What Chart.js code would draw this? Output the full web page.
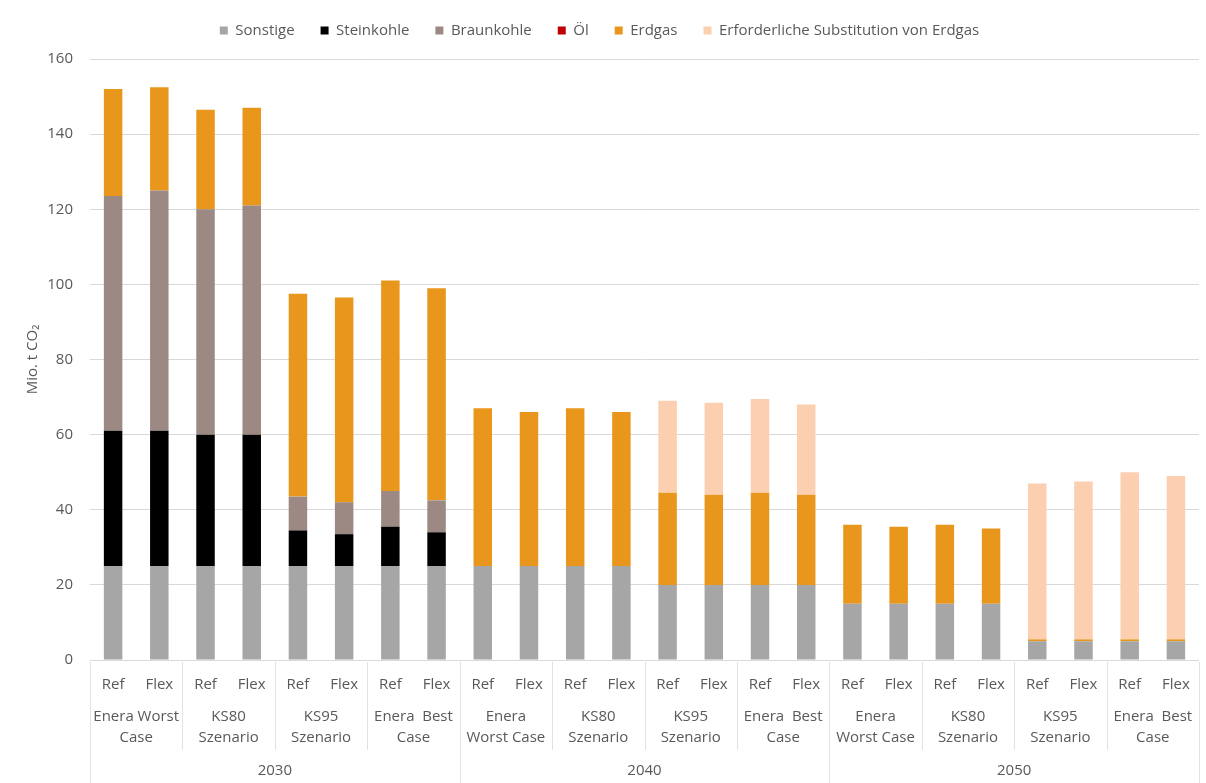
<!DOCTYPE html>
<html>
<head>
<meta charset="utf-8">
<script src="https://cdn.jsdelivr.net/npm/chart.js@4"></script>
<style>
  html, body { margin: 0; padding: 0; background: #fff; }
  #wrap { width: 1206px; height: 783px; }
</style>
</head>
<body>
<div id="wrap"><canvas id="co2Chart" width="1206" height="783"></canvas></div>
<script>
// ---- data ----
const years = ['2030', '2040', '2050'];
const scenarios = [
  ['Enera Worst', 'Case'], ['KS80', 'Szenario'], ['KS95', 'Szenario'], ['Enera  Best', 'Case'],
  ['Enera', 'Worst Case'], ['KS80', 'Szenario'], ['KS95', 'Szenario'], ['Enera  Best', 'Case'],
  ['Enera', 'Worst Case'], ['KS80', 'Szenario'], ['KS95', 'Szenario'], ['Enera  Best', 'Case']
];
const variants = ['Ref', 'Flex'];

const sonstige   = [25, 25, 25, 25, 25, 25, 25, 25,   25, 25, 25, 25, 20, 20, 20, 20,   15, 15, 15, 15, 5, 5, 5, 5];
const steinkohle = [36, 36, 35, 35, 9.5, 8.5, 10.5, 9, 0, 0, 0, 0, 0, 0, 0, 0,           0, 0, 0, 0, 0, 0, 0, 0];
const braunkohle = [62.5, 64, 60, 61, 9, 8.5, 9.5, 8.5, 0, 0, 0, 0, 0, 0, 0, 0,         0, 0, 0, 0, 0, 0, 0, 0];
const oel        = [0, 0, 0, 0, 0, 0, 0, 0,           0, 0, 0, 0, 0, 0, 0, 0,           0, 0, 0, 0, 0, 0, 0, 0];
const erdgas     = [28.5, 27.5, 26.5, 26, 54, 54.5, 56, 56.5, 42, 41, 42, 41, 24.5, 24, 24.5, 24, 21, 20.5, 21, 20, 0.5, 0.5, 0.5, 0.5];
const substitution = [0, 0, 0, 0, 0, 0, 0, 0,         0, 0, 0, 0, 24.5, 24.5, 25, 24,   0, 0, 0, 0, 41.5, 42, 44.5, 43.5];

const yTicks = { min: 0, max: 160, step: 20 };

// one category per bar: Ref/Flex repeated for every scenario
const labels = scenarios.flatMap(() => variants);

const textColor = '#595959';
const lineColor = '#d9d9d9';
const fontFamily = "'Open Sans', 'Noto Sans', sans-serif";

// fixed legend block height so the plot starts where the reference does
const legendMargin = {
  id: 'legendMargin',
  beforeInit(chart) {
    const fit = chart.legend.fit;
    chart.legend.fit = function () {
      fit.bind(chart.legend)();
      this.height = 62;
    };
  }
};

// scenario + year rows under the Ref/Flex ticks
const groupLabels = {
  id: 'groupLabels',
  afterDraw(chart) {
    const x = chart.scales.x;
    const ctx = chart.ctx;
    const n = labels.length;
    const edge = i => {
      if (i === 0) return x.left;
      if (i === n) return x.right;
      return (x.getPixelForValue(i - 1) + x.getPixelForValue(i)) / 2;
    };
    const top = x.top + 2;

    ctx.save();
    ctx.strokeStyle = '#e2e2e2';
    ctx.lineWidth = 1;
    for (let k = 0; k <= n; k += 2) {
      const px = Math.round(edge(k)) + 0.5;
      const isYear = k % 8 === 0;
      ctx.beginPath();
      ctx.moveTo(px, top);
      ctx.lineTo(px, isYear ? chart.height : 750);
      ctx.stroke();
    }

    ctx.fillStyle = textColor;
    ctx.textAlign = 'center';
    ctx.textBaseline = 'middle';
    ctx.font = '15px ' + fontFamily;
    scenarios.forEach((lines, s) => {
      const cx = (edge(2 * s) + edge(2 * s + 2)) / 2;
      lines.forEach((t, j) => ctx.fillText(t, cx, 717 + j * 21));
    });
    years.forEach((yr, y) => {
      const cx = (edge(8 * y) + edge(8 * y + 8)) / 2;
      ctx.fillText(yr, cx, 771);
    });
    ctx.restore();
  }
};

function bar(label, data, color) {
  return {
    label: label,
    data: data,
    backgroundColor: color,
    borderWidth: 0,
    barPercentage: 0.4,
    categoryPercentage: 1
  };
}

new Chart(document.getElementById('co2Chart'), {
  type: 'bar',
  data: {
    labels: labels,
    datasets: [
      bar('Sonstige', sonstige, '#a6a6a6'),
      bar('Steinkohle', steinkohle, '#000000'),
      bar('Braunkohle', braunkohle, '#9c8983'),
      bar('Öl', oel, '#c00000'),
      bar('Erdgas', erdgas, '#e8961c'),
      bar('Erforderliche Substitution von Erdgas', substitution, '#fbcfb0')
    ]
  },
  options: {
    responsive: false,
    animation: false,
    layout: { padding: { top: -3, right: 7, left: 0, bottom: 0 } },
    plugins: {
      legend: {
        position: 'top',
        labels: {
          color: textColor,
          font: { family: fontFamily, size: 15 },
          boxWidth: 8,
          boxHeight: 8,
          padding: 26
        }
      },
      tooltip: { enabled: false }
    },
    scales: {
      x: {
        stacked: true,
        grid: { display: false, drawTicks: false },
        border: { display: false },
        ticks: {
          color: textColor,
          font: { family: fontFamily, size: 15 },
          padding: 16,
          maxRotation: 0,
          autoSkip: false
        },
        afterFit(scale) { scale.height = 123; }
      },
      y: {
        stacked: true,
        min: yTicks.min,
        max: yTicks.max,
        ticks: {
          stepSize: yTicks.step,
          color: textColor,
          font: { family: fontFamily, size: 15 },
          padding: 17
        },
        grid: { color: lineColor, drawTicks: false },
        border: { display: false },
        title: {
          display: true,
          text: 'Mio. t CO₂',
          color: textColor,
          font: { family: fontFamily, size: 15 },
          padding: { top: 24, bottom: 0 }
        },
        afterFit(scale) { scale.width = 90; }
      }
    }
  },
  plugins: [legendMargin, groupLabels]
});
</script>
</body>
</html>
